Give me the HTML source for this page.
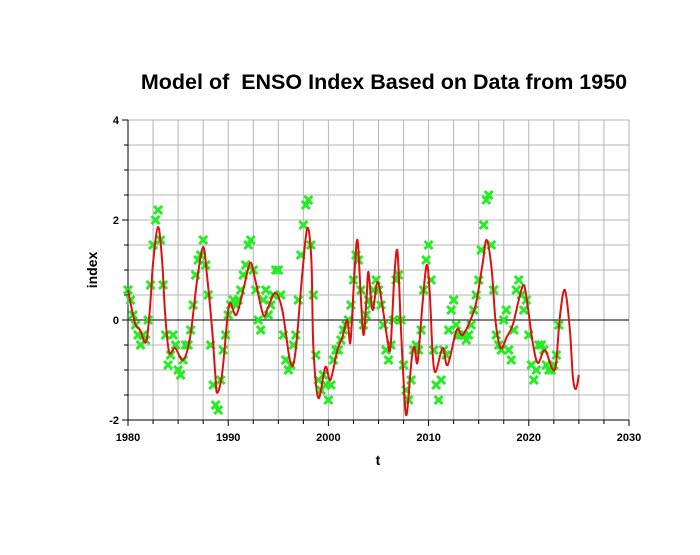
<!DOCTYPE html>
<html><head><meta charset="utf-8"><style>
body{margin:0;background:#fff}
text{font-family:"Liberation Sans",Arial,sans-serif;font-weight:bold}
</style></head><body>
<svg id="chart" width="700" height="550" xmlns="http://www.w3.org/2000/svg">
<rect width="700" height="550" fill="#fff"/>
<text x="384" y="89" text-anchor="middle" font-size="21.5" style="white-space:pre">Model of  ENSO Index Based on Data from 1950</text>
<g id="grid"></g>
<g id="axes"></g>
<g id="dataPts"></g>
<path id="modelLine" fill="none" stroke="#dd1111" stroke-width="2"/>
<text x="378" y="465" text-anchor="middle" font-size="14">t</text>
<text transform="translate(97,270) rotate(-90)" text-anchor="middle" font-size="14">index</text>
</svg>
<script>
const xTicks=[1980,1990,2000,2010,2020,2030];
const yTicks=[-2,0,2,4];
const modelT=[1980.0,1980.7,1981.2,1981.8,1982.2,1982.5,1983.0,1983.4,1983.7,1984.1,1984.7,1985.5,1986.2,1986.9,1987.5,1987.9,1988.4,1988.7,1988.9,1989.4,1989.9,1990.2,1990.8,1991.5,1992.2,1992.7,1993.5,1994.0,1994.7,1995.4,1996.2,1996.7,1997.4,1997.9,1998.3,1998.5,1999.0,1999.7,2000.2,2000.9,2001.4,2001.9,2002.2,2002.6,2002.9,2003.2,2003.5,2003.8,2004.0,2004.4,2004.9,2005.4,2005.9,2006.2,2006.6,2006.9,2007.2,2007.5,2007.8,2008.3,2008.6,2008.9,2009.4,2009.8,2010.1,2010.4,2010.7,2011.4,2011.9,2012.8,2013.4,2014.3,2014.8,2015.4,2015.8,2016.3,2016.7,2017.2,2017.8,2018.4,2019.0,2019.5,2019.9,2020.4,2020.9,2021.6,2022.3,2022.7,2023.1,2023.6,2024.1,2024.4,2024.7,2025.0];
const modelV=[0.6,-0.06,-0.2,-0.44,0.26,1.14,1.86,1.2,0.14,-0.64,-0.56,-0.8,-0.34,0.8,1.46,0.86,-0.2,-1.06,-1.46,-1.06,0,0.34,0.1,0.6,1.14,0.8,0.1,0.26,0.54,0.2,-0.84,-0.66,0.94,1.84,1.2,-0.54,-1.56,-0.94,-1.2,-0.6,-0.34,0,-0.44,0.94,1.6,0.6,-0.3,0.4,0.96,0.2,0.76,0.26,-0.4,-0.54,0.94,1.36,0,-1.2,-1.9,-0.8,-0.54,-0.84,0.34,1.1,0.6,-0.66,-1.04,-0.56,-0.9,-0.2,-0.3,0.06,0.4,1.14,1.6,1.0,-0.06,-0.56,-0.34,-0.1,0.4,0.7,0.26,-0.46,-0.86,-0.6,-0.96,-0.9,0.06,0.6,-0.2,-1.14,-1.38,-1.1];
const dataStart=1980, dataStep=0.25;
const dataV=[0.6,0.4,0.1,-0.1,-0.3,-0.5,-0.3,-0.4,0.0,0.7,1.5,2.0,2.2,1.6,0.7,-0.3,-0.9,-0.7,-0.3,-0.5,-1.0,-1.1,-0.8,-0.5,-0.5,-0.2,0.3,0.9,1.2,1.3,1.6,1.1,0.5,-0.5,-1.3,-1.7,-1.8,-1.2,-0.6,-0.3,0.1,0.3,0.4,0.3,0.4,0.6,0.9,1.1,1.5,1.6,1.0,0.6,0.0,-0.2,0.4,0.6,0.1,0.3,0.5,1.0,1.0,0.5,-0.3,-0.8,-1.0,-0.9,-0.5,-0.3,0.4,1.3,1.9,2.3,2.4,1.5,0.5,-0.7,-1.2,-1.4,-1.1,-1.3,-1.6,-1.3,-0.8,-0.6,-0.6,-0.4,-0.2,-0.1,0.0,0.3,0.8,1.3,1.2,0.6,-0.1,0.1,0.4,0.3,0.6,0.8,0.6,0.3,-0.1,-0.6,-0.8,-0.5,0.0,0.8,0.9,0.0,-0.9,-1.4,-1.6,-1.2,-0.6,-0.5,-0.6,-0.2,0.6,1.2,1.5,0.8,-0.6,-1.3,-1.6,-1.2,-0.6,-0.7,-0.2,0.2,0.4,-0.1,-0.3,-0.3,-0.3,-0.4,-0.3,-0.1,0.2,0.5,0.8,1.4,1.9,2.4,2.5,1.5,0.6,-0.3,-0.5,-0.6,0.0,0.2,-0.6,-0.8,-0.2,0.6,0.8,0.5,0.2,0.4,-0.3,-0.9,-1.2,-1.0,-0.5,-0.5,-0.6,-0.9,-1.0,-1.0,-0.9,-0.7,-0.1];
const X0=128,X1=629,Y0=420,Y1=120;
const sx=t=>X0+(t-1980)/50*(X1-X0);
const sy=v=>Y0-(v+2)/6*(Y0-Y1);
const NS="http://www.w3.org/2000/svg";
function mk(tag,attrs,parent){const e=document.createElementNS(NS,tag);for(const k in attrs)e.setAttribute(k,attrs[k]);parent.appendChild(e);return e;}
const grid=document.getElementById('grid'),axes=document.getElementById('axes');
for(let t=1980;t<=2030;t+=2.5){const l=mk('line',{x1:sx(t),x2:sx(t),y1:Y1,y2:Y0,stroke:'#b4b4b4','stroke-width':1},grid);


mk('line',{x1:sx(t),x2:sx(t),y1:Y0,y2:Y0+(t%10===0?6:4),stroke:'#000'},axes);}
for(let v=-2;v<=4;v+=0.5){const l=mk('line',{x1:X0,x2:X1,y1:sy(v),y2:sy(v),stroke:v===0?'#000':'#b4b4b4','stroke-width':1},grid);


mk('line',{x1:X0-(v%2===0?6:4),x2:X0,y1:sy(v),y2:sy(v),stroke:'#000'},axes);}
mk('line',{x1:X0,x2:X0,y1:Y1,y2:Y0,stroke:'#000'},axes);
mk('line',{x1:X0,x2:X1,y1:Y0,y2:Y0,stroke:'#000'},axes);
xTicks.forEach(t=>{const e=mk('text',{x:sx(t),y:Y0+21,'text-anchor':'middle','font-size':11},axes);e.textContent=t;

});
yTicks.forEach(v=>{const e=mk('text',{x:X0-9,y:sy(v)+4,'text-anchor':'end','font-size':11},axes);e.textContent=v;

});
const dp=document.getElementById('dataPts');
dataV.forEach((v,i)=>{const x=sx(dataStart+i*dataStep),y=sy(v),r=4;
const p=mk('path',{d:`M${x-r},${y-r}L${x+r},${y+r}M${x+r},${y-r}L${x-r},${y+r}`,stroke:'#22ee22','stroke-width':3,fill:'none'},dp);

});
const P=modelT.map((t,i)=>[sx(t),sy(modelV[i])]);
let d=`M${P[0][0]},${P[0][1]}`;
for(let i=0;i<P.length-1;i++){const p0=P[Math.max(i-1,0)],p1=P[i],p2=P[i+1],p3=P[Math.min(i+2,P.length-1)];
d+=`C${p1[0]+(p2[0]-p0[0])/6},${p1[1]+(p2[1]-p0[1])/6} ${p2[0]-(p3[0]-p1[0])/6},${p2[1]-(p3[1]-p1[1])/6} ${p2[0]},${p2[1]}`;}
document.getElementById('modelLine').setAttribute('d',d);
</script>
</body></html>
